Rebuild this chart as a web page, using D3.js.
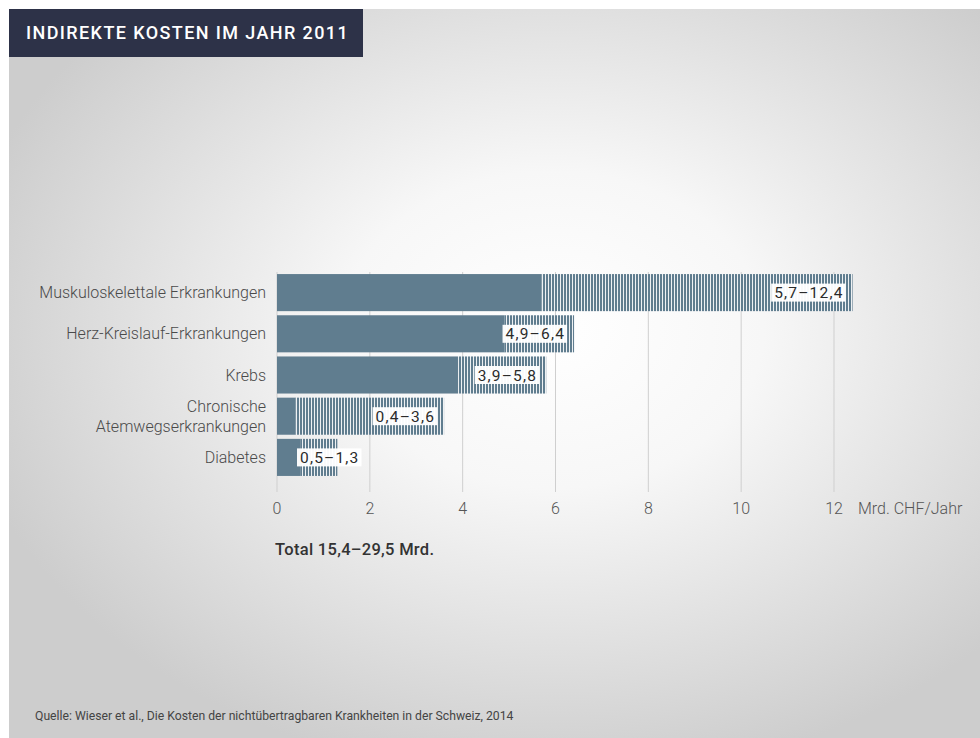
<!DOCTYPE html>
<html><head><meta charset="utf-8">
<script src="https://cdn.jsdelivr.net/npm/d3@7"></script>
<style>html,body{margin:0;padding:0;background:#fff;}svg{display:block;}</style>
</head><body>
<script>
const title = "INDIREKTE KOSTEN IM JAHR 2011";
const categories = ["Muskuloskelettale Erkrankungen","Herz-Kreislauf-Erkrankungen","Krebs","Chronische|Atemwegserkrankungen","Diabetes"];
const lowValues = [5.7, 4.9, 3.9, 0.4, 0.5];
const highValues = [12.4, 6.4, 5.8, 3.6, 1.3];
const rangeLabels = ["5,7–12,4","4,9–6,4","3,9–5,8","0,4–3,6","0,5–1,3"];
const tickValues = [0,2,4,6,8,10,12];
const unitLabel = "Mrd. CHF/Jahr";
const totalLabel = "Total 15,4–29,5 Mrd.";
const sourceLabel = "Quelle: Wieser et al., Die Kosten der nichtübertragbaren Krankheiten in der Schweiz, 2014";

const W = 980, H = 738;
const barColor = "#607d8f";
const font = "Roboto, 'Noto Sans', sans-serif";

const svg = d3.select("body").append("svg").attr("width", W).attr("height", H);
const defs = svg.append("defs");
const rg = defs.append("radialGradient").attr("id","bg").attr("cx","0.56").attr("cy","0.44").attr("r","0.62");
rg.append("stop").attr("offset","0").attr("stop-color","#ffffff");
rg.append("stop").attr("offset","0.35").attr("stop-color","#f7f7f7");
rg.append("stop").attr("offset","1").attr("stop-color","#cdcdcd");
const pat = defs.append("pattern").attr("id","hatch").attr("patternUnits","userSpaceOnUse").attr("width",3).attr("height",10);
pat.append("rect").attr("width",3).attr("height",10).attr("fill","#eef1f3");
pat.append("rect").attr("width",2).attr("height",10).attr("fill",barColor);

svg.append("rect").attr("x",9).attr("y",9).attr("width",W-9).attr("height",H-9).attr("fill","url(#bg)");

// title box
svg.append("rect").attr("x",9).attr("y",9).attr("width",354).attr("height",48).attr("fill","#2d3248");
svg.append("text").attr("x",26).attr("y",39).attr("fill","#fff").attr("font-family",font)
  .attr("font-size",18).attr("font-weight",500).attr("letter-spacing",1.4).text(title);

const x = d3.scaleLinear().domain([0,12]).range([277,834]);
const y = d3.scaleBand().domain(categories).range([272,478]).paddingInner(0.1).paddingOuter(0.05);

// gridlines
svg.append("g").selectAll("line").data(tickValues).join("line")
  .attr("x1",d=>x(d)).attr("x2",d=>x(d)).attr("y1",272).attr("y2",492)
  .attr("stroke","#cfcfcf").attr("stroke-width",1);

// bars
const g = svg.append("g");
categories.forEach((c,i)=>{
  const y0 = y(c), bh = y.bandwidth();
  g.append("rect").attr("x",x(lowValues[i])).attr("y",y0).attr("width",x(highValues[i])-x(lowValues[i])).attr("height",bh).attr("fill","url(#hatch)");
  g.append("rect").attr("x",x(0)).attr("y",y0).attr("width",x(lowValues[i])-x(0)).attr("height",bh).attr("fill",barColor);
  // label
  const t = g.append("text").attr("font-family",font).attr("font-size",15.5).attr("letter-spacing",1.2)
    .attr("fill","#2a2a2a").attr("y",y0+bh/2+5.5).text(rangeLabels[i]);
  const w = t.node().getComputedTextLength();
  const bw = w + 5;
  let left = Math.max(x(highValues[i]) - 7 - bw, x(0) + 20);
  g.insert("rect", () => t.node()).attr("x",left).attr("y",y0+bh/2-9).attr("width",bw).attr("height",18).attr("fill","#ffffff").attr("opacity",0.96);
  t.attr("x",left+3);
  // category label
  const parts = c.split("|");
  const ct = svg.append("text").attr("text-anchor","end").attr("x",266).attr("font-family",font)
    .attr("font-size",16).attr("font-weight",300).attr("fill","#4a4a4a");
  parts.forEach((p,k)=>{
    ct.append("tspan").attr("x",266).attr("y",y0+bh/2+5.5 + (k-(parts.length-1)/2)*20).text(p);
  });
});

// ticks
svg.append("g").selectAll("text").data(tickValues).join("text")
  .attr("x",d=>x(d)).attr("y",514).attr("text-anchor","middle").attr("font-family",font)
  .attr("font-size",16).attr("font-weight",300).attr("fill","#555").text(d=>d);
svg.append("text").attr("x",858).attr("y",514).attr("font-family",font).attr("font-size",16).attr("font-weight",300)
  .attr("fill","#555").text(unitLabel);

svg.append("text").attr("x",275).attr("y",555).attr("font-family",font).attr("font-size",16.5).attr("font-weight",500)
  .attr("fill","#333").attr("letter-spacing",0.3).text(totalLabel);

svg.append("text").attr("x",35).attr("y",720).attr("font-family",font).attr("font-size",12.2)
  .attr("fill","#444").text(sourceLabel);
</script>
</body></html>
